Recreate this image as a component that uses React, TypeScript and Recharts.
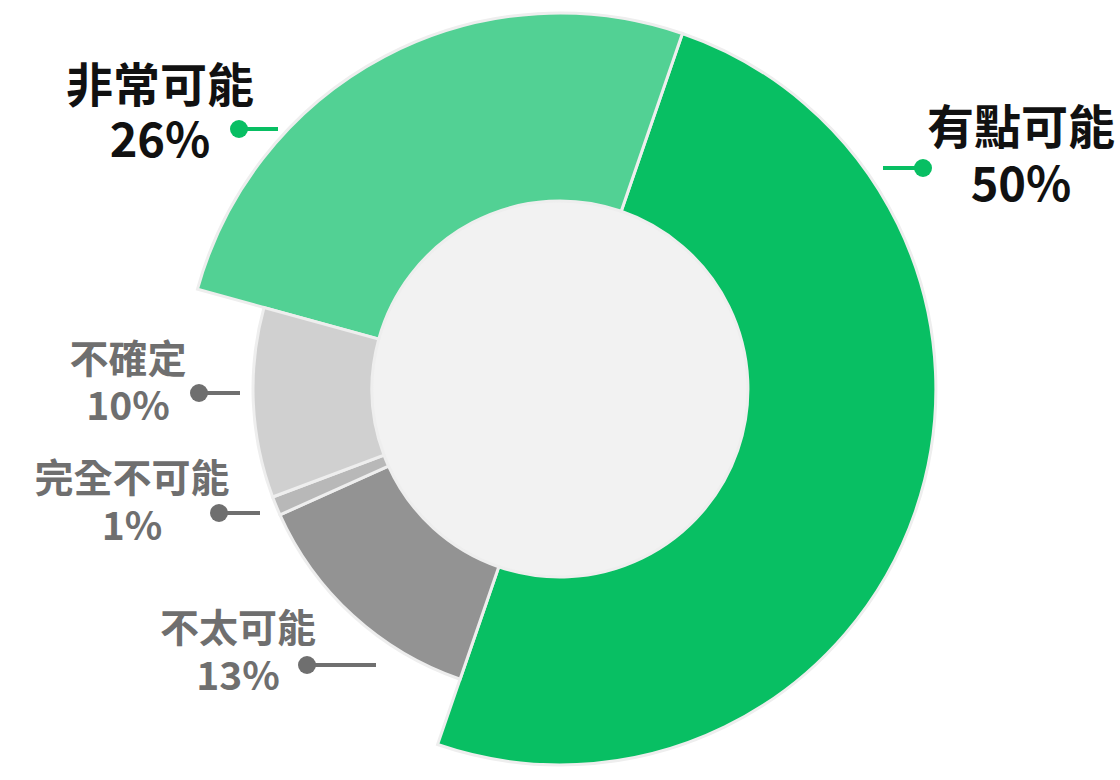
import { PieChart, Pie, Cell } from "recharts";

// slices listed clockwise, starting at the top-right edge of the big green slice
const CATEGORIES = ["有點可能", "不太可能", "完全不可能", "不確定", "非常可能"];
const SHARES = [50, 13, 1, 10, 26];
const RING = ["outer", "inner", "inner", "inner", "outer"];

const COLORS = ["#08bf63", "#939393", "#b8b8b8", "#d0d0d0", "#52d194"];
const LABEL_INK = ["#111111", "#6f6f6f", "#6f6f6f", "#6f6f6f", "#111111"];
const DOT_INK = ["#08bf63", "#6f6f6f", "#6f6f6f", "#6f6f6f", "#08bf63"];

// label placement, relative to the pie centre
const LABEL_LAYOUT = [
  { tx: 461, l1: -266, l2: -209, dx: 363, dy: -221, end: 323, size: 47 },
  { tx: -322, l1: 236, l2: 284, dx: -253, dy: 276, end: -184, size: 39 },
  { tx: -428, l1: 86, l2: 134, dx: -341, dy: 124, end: -300, size: 39 },
  { tx: -432, l1: -33, l2: 14, dx: -361, dy: 4, end: -320, size: 39 },
  { tx: -400, l1: -308, l2: -253, dx: -321, dy: -260, end: -282, size: 47 },
];

const data = CATEGORIES.map((name, i) => ({ name, value: SHARES[i] }));
const hole = [{ name: "hole", value: 1 }];

const CX = 560;
const CY = 389;
const FONT = '"Noto Sans CJK TC", "Noto Sans", sans-serif';

function renderLabel(props: any) {
  const { cx, cy, index } = props;
  const L = LABEL_LAYOUT[index];
  const ink = LABEL_INK[index];
  const dot = DOT_INK[index];
  return (
    <g key={`lbl-${index}`}>
      <line
        x1={cx + L.end}
        y1={cy + L.dy}
        x2={cx + L.dx}
        y2={cy + L.dy}
        stroke={dot}
        strokeWidth={4}
      />
      <circle cx={cx + L.dx} cy={cy + L.dy} r={9} fill={dot} />
      <text
        x={cx + L.tx}
        y={cy + L.l1}
        textAnchor="middle"
        dominantBaseline="central"
        fill={ink}
        fontFamily={FONT}
        fontWeight={700}
        fontSize={L.size}
      >
        {CATEGORIES[index]}
      </text>
      <text
        x={cx + L.tx}
        y={cy + L.l2}
        textAnchor="middle"
        dominantBaseline="central"
        fill={ink}
        fontFamily={FONT}
        fontWeight={700}
        fontSize={L.size}
      >
        {`${SHARES[index]}%`}
      </text>
    </g>
  );
}

export default function App() {
  return (
    <div
      style={{
        position: "absolute",
        left: 0,
        top: 0,
        width: 1120,
        height: 780,
        background: "#fff",
      }}
    >
      <PieChart width={1120} height={780} margin={{ top: 0, right: 0, bottom: 0, left: 0 }}>
        <Pie
          data={hole}
          dataKey="value"
          cx={CX}
          cy={CY}
          innerRadius={0}
          outerRadius={190}
          fill="#f2f2f2"
          stroke="none"
          isAnimationActive={false}
        />
        <Pie
          data={data}
          dataKey="value"
          cx={CX}
          cy={CY}
          startAngle={71}
          endAngle={-289}
          innerRadius={188}
          outerRadius={376}
          strokeWidth={3}
          isAnimationActive={false}
          label={renderLabel}
          labelLine={false}
        >
          {data.map((_, i) => (
            <Cell
              key={i}
              fill={RING[i] === "outer" ? COLORS[i] : "none"}
              stroke={RING[i] === "outer" ? "#eeeeee" : "none"}
            />
          ))}
        </Pie>
        <Pie
          data={data}
          dataKey="value"
          cx={CX}
          cy={CY}
          startAngle={71}
          endAngle={-289}
          innerRadius={188}
          outerRadius={307}
          strokeWidth={3}
          isAnimationActive={false}
        >
          {data.map((_, i) => (
            <Cell
              key={i}
              fill={RING[i] === "inner" ? COLORS[i] : "none"}
              stroke={RING[i] === "inner" ? "#eeeeee" : "none"}
            />
          ))}
        </Pie>
      </PieChart>
    </div>
  );
}
